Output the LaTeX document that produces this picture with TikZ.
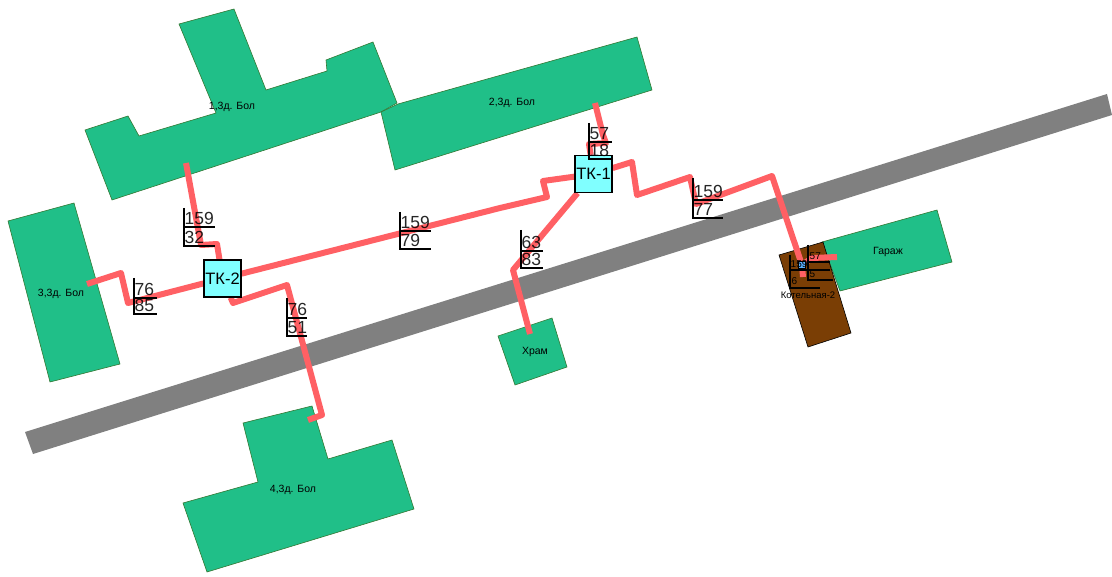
\documentclass[tikz,border=0pt]{standalone}
\usepackage{fontspec}
\setmainfont{Liberation Sans}
\usetikzlibrary{backgrounds}
\tikzset{
  bld/.style={draw=black!55!green!60!gray,line width=0.6pt,fill=bldgreen},
  road/.style={fill=roadgray},
  pipe/.style={draw=pipered,line width=6pt,line join=round},
  tkbox/.style={draw=black,line width=1.2pt,fill=tkcyan,minimum size=37pt,inner sep=0pt,font=\fontsize{16.5}{18}\selectfont},
  bldtext/.style={inner sep=0pt,font=\fontsize{10.5}{12}\selectfont},
  numtext/.style={inner sep=0.5pt,font=\fontsize{17.5}{18}\selectfont,opacity=0.85},
  smalltext/.style={inner sep=0.5pt,anchor=base west,font=\fontsize{10}{11}\selectfont},
  rule/.style={draw=black,line width=1.2pt}
}
\definecolor{bldgreen}{RGB}{32,191,136}
\definecolor{roadgray}{RGB}{128,128,128}
\definecolor{pipered}{RGB}{255,96,100}
\definecolor{tkcyan}{RGB}{128,255,255}
\definecolor{boilerbrown}{RGB}{122,62,5}
\begin{document}
\begin{tikzpicture}[x=1pt,y=-1pt]
	\useasboundingbox (0,0) rectangle (1112,577);
	% chambers and building names
	\node[tkbox] (tk1) at (593.5,174) {ТК-1};
	\node[tkbox] (tk2) at (222.5,278.5) {ТК-2};
	\node[draw=black,line width=0.8pt,fill=tkcyan!70!blue,minimum size=7pt,inner sep=0pt] (tk3) at (802,265) {};
	\node[bldtext] (bld1) at (232,107) {1,3д. Бол};
	\node[bldtext] (bld2) at (512,103) {2,3д. Бол};
	\node[bldtext] (bld3) at (61,294) {3,3д. Бол};
	\node[bldtext] (bld4) at (293,490) {4,3д. Бол};
	\node[bldtext] (church) at (535,352) {Храм};
	\node[bldtext] (garage) at (888,252) {Гараж};
	\node[bldtext,font=\fontsize{9.5}{11}\selectfont] (boiler) at (808,295) {Котельная-2};
	\coordinate (in1) at (186,163);
	\coordinate (in2) at (595,103);
	\coordinate (in3) at (87,284);
	\coordinate (in4) at (308,420);
	\coordinate (inchurch) at (530,334);
	\coordinate (ingarage) at (837,257);
	\coordinate (inboiler) at (803,277);
	\begin{scope}[on background layer]
		\fill[road] (25,432) -- (1107,94) -- (1112,115) -- (33,454) -- cycle;
		\draw[bld] (85,130) -- (128,116) -- (139,136) -- (216,113) -- (179,24) -- (234,9) -- (266,90) -- (327,71) -- (326,60) -- (373,42) -- (397,103) -- (381,112) -- (112,200) -- cycle;
		\draw[bld] (381,112) -- (398,104) -- (637,37) -- (652,90) -- (395,170) -- cycle;
		\draw[bld] (8,221) -- (74,203) -- (120,364) -- (50,382) -- cycle;
		\draw[bld] (243,423) -- (312,406) -- (328,459) -- (392,440) -- (414,509) -- (207,572) -- (183,503) -- (258,482) -- cycle;
		\draw[bld] (498,336) -- (552,318) -- (567,367) -- (515,385) -- cycle;
		\draw[bld] (822,242) -- (937,210) -- (952,262) -- (840,291) -- cycle;
		\draw[bld,fill=boilerbrown,draw=black] (779,255) -- (823,242) -- (851,333) -- (808,347) -- cycle;
		% heating pipes
		\draw[pipe] (in1) -- (201,245) -- (217,244) -- (tk2);
		\draw[pipe] (tk2) -- (500,208) -- (547,197) -- (543,181) -- (tk1);
		\draw[pipe] (tk1) -- (632,162) -- (637,195) -- (690,177) -- (696,204) -- (772,176) -- (tk3);
		\draw[pipe] (tk3) -- (inboiler);
		\draw[pipe] (tk3) -- (812,258) -- (ingarage);
		\draw[pipe] (tk1) -- (513,270) -- (inchurch);
		\draw[pipe] (tk2) -- (128,303) -- (121,273) -- (in3);
		\draw[pipe] (tk2) -- (233,303) -- (287,285) -- (322,415) -- (in4);
		\draw[pipe] (in2) -- (603,135) -- (606,143) -- (589,144) -- (tk1);
	\end{scope}
	% flow and length marks
	\foreach \mk/\x/\t/\m/\b/\r/\up/\dn in {
		a/184/208/227/246/215/159/32,
		b/134/278/298/314/157/76/85,
		c/287/298/318/336/307/76/51,
		d/400/212/231/249/431/159/79,
		e/521/230/251/268/543/63/83,
		f/589/123/142/159/612/57/18,
		g/693/178/200/218/723/159/77}
	{
		\draw[rule] (\x,\t) -- (\x,\b) -- (\r,\b);
		\draw[rule] (\x,\m) -- (\r,\m);
		\node[numtext,anchor=base west] (up\mk) at (\x,\m-2.5) {\up};
		\node[numtext,anchor=base west] (dn\mk) at (\x,\b-2.5) {\dn};
	}
	\draw[rule] (790,255) -- (790,288) -- (820,288);
	\draw[rule] (790,270) -- (830,270);
	\draw[rule] (808,245) -- (808,280) -- (833,280);
	\draw[rule] (808,262) -- (830,262);
	\node[smalltext] (uph) at (790,268) {159};
	\node[smalltext] (dnh) at (791,285) {6};
	\node[smalltext] (upi) at (809,260) {57};
	\node[smalltext] (dni) at (809,278) {5};
\end{tikzpicture}
\end{document}
